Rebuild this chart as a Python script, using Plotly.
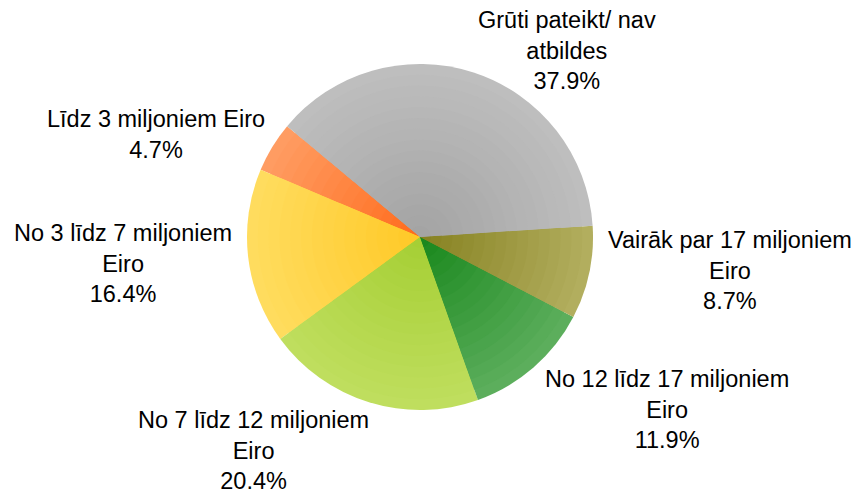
import numpy as np
import plotly.graph_objects as go

labels = [
    "Līdz 3 miljoniem Eiro",
    "No 3 līdz 7 miljoniem<br>Eiro",
    "No 7 līdz 12 miljoniem<br>Eiro",
    "No 12 līdz 17 miljoniem<br>Eiro",
    "Vairāk par 17 miljoniem<br>Eiro",
    "Grūti pateikt/ nav<br>atbildes",
]
values = [4.7, 16.4, 20.4, 11.9, 8.7, 37.9]

# radial shading: colour at the centre and at the rim of each slice
inner_colors = ["#FF6A1A", "#FFC824", "#A4CE32", "#16861A", "#847F1E", "#A2A2A2"]
outer_colors = ["#FF9C62", "#FFDC5E", "#BFDE5E", "#5CAE5C", "#B2AE5E", "#BEBEBE"]

# label offsets (px) from the rim point at each slice's mid-angle
label_offsets = [(-116, -12), (-125, 7), (-116, 48), (134, 42), (141, -2), (93, -22)]

W, H = 859, 494
PCX, PCY, R = 412, 229, 173      # pie centre (px, figure coords) and radius
ROTATION = -67.1
FONT = dict(family="Liberation Sans, Arial, sans-serif", size=23.5, color="#000000")

CX, CY = PCX / W, 1 - PCY / H


def hex2rgb(h):
    h = h.lstrip("#")
    return np.array([int(h[i:i + 2], 16) for i in (0, 2, 4)], dtype=float)


def mix(a, b, t):
    c = hex2rgb(a) * (1 - t) + hex2rgb(b) * t
    return "rgb(%d,%d,%d)" % tuple(np.round(c).astype(int))


def dom(scale):
    rx = R * scale / W
    ry = R * scale / H
    return dict(x=[CX - rx, CX + rx], y=[CY - ry, CY + ry])


fig = go.Figure()
n_rings = 16
for k in range(n_rings):
    scale = 1 - k / n_rings  # outermost first, inner pies drawn on top
    cols = [mix(i, o, scale) for i, o in zip(inner_colors, outer_colors)]
    fig.add_trace(go.Pie(
        labels=labels,
        values=values,
        sort=False,
        direction="counterclockwise",
        rotation=ROTATION,
        marker=dict(colors=cols, line=dict(width=0)),
        textinfo="none",
        domain=dom(scale),
        showlegend=False,
        hoverinfo="label+percent" if k == 0 else "skip",
    ))

# outside labels placed from the slice geometry
vals = np.array(values, dtype=float)
ang = vals / vals.sum() * 360.0
cum = np.concatenate([[0.0], np.cumsum(ang)[:-1]])
mid = ROTATION + ang[0] - cum - ang / 2.0
pct = vals / vals.sum() * 100.0
for lab, p, m, (dx, dy) in zip(labels, pct, mid, label_offsets):
    th = np.deg2rad(m)
    rx = PCX + R * np.sin(th)
    ry = PCY - R * np.cos(th)
    fig.add_annotation(
        x=(rx + dx) / W, y=1 - (ry + dy) / H,
        xref="paper", yref="paper",
        xanchor="center", yanchor="middle",
        text=f"{lab}<br>{p:.1f}%",
        showarrow=False,
        font=FONT,
        align="center",
    )

fig.update_layout(
    width=W, height=H,
    margin=dict(l=0, r=0, t=0, b=0),
    paper_bgcolor="white",
    plot_bgcolor="white",
)
fig.write_html("out.html")
